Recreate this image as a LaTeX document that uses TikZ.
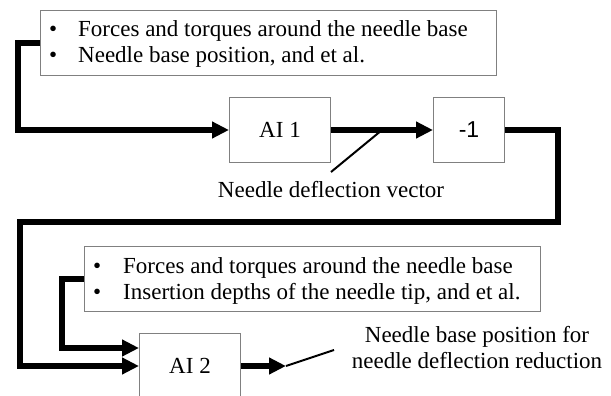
\documentclass[tikz,border=0pt]{standalone}
\usepackage{fontspec}
\setmainfont{Liberation Serif}
\newfontfamily\arialf{Liberation Sans}
\usetikzlibrary{arrows.meta,calc}
\definecolor{boxgray}{RGB}{128,128,128}
\begin{document}
\begin{tikzpicture}[x=1pt,y=-1pt,
  txt/.style={font=\fontsize{23}{26}\selectfont, inner sep=0pt},
  box/.style={draw=boxgray, line width=1pt, fill=white, inner sep=0pt, anchor=north west, font=\fontsize{23}{26}\selectfont},
  flow/.style={line width=6.5pt, line join=miter, -{Triangle[length=17pt,width=16pt]}},
  thinline/.style={line width=2pt}]
\useasboundingbox (0,0) rectangle (611,396);

% info box 1
\node[box, minimum width=456pt, minimum height=65pt] (info1) at (40,10) {};
\node[txt, anchor=base west] (i1ba) at (49,37) {\textbullet};
\node[txt, anchor=base west] (i1ta) at (78,37) {Forces and torques around the needle base};
\node[txt, anchor=base west] (i1bb) at (49,63) {\textbullet};
\node[txt, anchor=base west] (i1tb) at (78,63) {Needle base position, and et al.};

% AI 1 and -1
\node[box, minimum width=101pt, minimum height=65pt] (ai1) at (229,97) {AI 1};
\node[box, minimum width=71pt, minimum height=65pt, font=\arialf\fontsize{23}{26}\selectfont] (neg) at (433,97) {-1};

% info box 2
\node[box, minimum width=456pt, minimum height=65pt] (info2) at (84,246) {};
\node[txt, anchor=base west] (i2ba) at (93,273) {\textbullet};
\node[txt, anchor=base west] (i2ta) at (123,273) {Forces and torques around the needle base};
\node[txt, anchor=base west] (i2bb) at (93,299) {\textbullet};
\node[txt, anchor=base west] (i2tb) at (123,299) {Insertion depths of the needle tip, and et al.};

% AI 2
\node[box, minimum width=101pt, minimum height=65pt] (ai2) at (139,333) {AI 2};

% connectors
\draw[flow] (info1.west) -- ++(-22,0) |- (ai1.west);
\draw[flow] (ai1.east) -- (neg.west);
\draw[flow] (neg.east) -- ++(53,0) -- ++(0,92) -| (20,300) |- (ai2.west);
\draw[flow] (info2.west) -- ++(-22,0) |- ([yshift=18pt]ai2.west);
\draw[flow] (ai2.east) -- ++(45,0) coordinate (sw);
\draw[thinline] (sw) -- ++(48,-16);

% deflection vector label
\coordinate (dv) at ($(ai1.east)!0.5!(neg.west)$);
\draw[thinline] (dv) -- ++(-51,42);
\node[txt, anchor=base] (dvl) at (331,197) {Needle deflection vector};

% output label
\node[txt, anchor=base] (outa) at (477,342) {Needle base position for};
\node[txt, anchor=base] (outb) at (477,368) {needle deflection reduction};
\end{tikzpicture}
\end{document}
